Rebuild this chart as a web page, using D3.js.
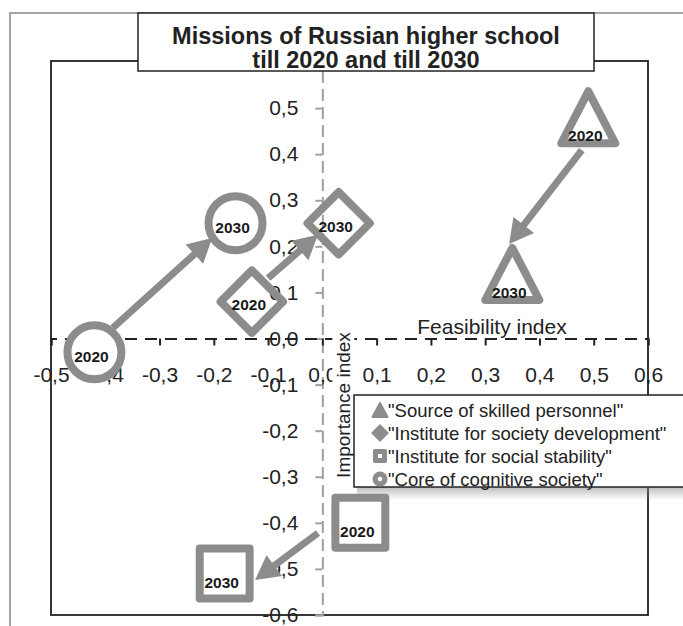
<!DOCTYPE html>
<html>
<head>
<meta charset="utf-8">
<script src="https://cdn.jsdelivr.net/npm/d3@7"></script>
<style>
  html, body { margin: 0; padding: 0; background: #fff; }
  svg { display: block; font-family: "Liberation Sans", Arial, sans-serif; }
</style>
</head>
<body>
<svg id="chart" width="683" height="626"></svg>
<script>
// Missions of Russian higher school: position in 2020 and 2030
const categories = [
  '"Source of skilled personnel"',
  '"Institute for society development"',
  '"Institute for social stability"',
  '"Core of cognitive society"'
];
const shapes = ["triangle", "diamond", "square", "circle"];
const legendOrder = [0, 1, 2, 3];

// feasibility (x) and importance (y) indexes
const feasibility2020 = [0.49, -0.13, 0.07, -0.42];
const importance2020  = [0.48, 0.08, -0.40, -0.03];
const feasibility2030 = [0.35, 0.03, -0.18, -0.16];
const importance2030  = [0.14, 0.25, -0.51, 0.25];

// arrows showing the shift from 2020 to 2030
const arrowFromX = [0.478, -0.100, -0.008, -0.386];
const arrowFromY = [0.409, 0.131, -0.422, 0.023];
const arrowToX   = [0.344, -0.008, -0.124, -0.203];
const arrowToY   = [0.205, 0.225, -0.524, 0.218];

const xTicks = [-0.5, -0.4, -0.3, -0.2, -0.1, 0, 0.1, 0.2, 0.3, 0.4, 0.5, 0.6];
const yTicks = [-0.6, -0.5, -0.4, -0.3, -0.2, -0.1, 0, 0.1, 0.2, 0.3, 0.4, 0.5];
const titleLines = ["Missions of Russian higher school", "till 2020 and till 2030"];
const xTitle = "Feasibility index";
const yTitle = "Importance index";

const fmt = v => (Math.abs(v) < 1e-9 ? 0 : v).toFixed(1).replace(".", ",");

const svg = d3.select("#chart");
const plot = { left: 51, top: 62, right: 648, bottom: 615 };
const x = d3.scaleLinear().domain([-0.5, 0.6]).range([plot.left, plot.right]);
const y = d3.scaleLinear().domain([-0.6, 0.6]).range([plot.bottom, plot.top]);
const x0 = x(0), y0 = y(0);

const markColor = "#8c8c8c";

// outer chart frame (runs past the window edges)
svg.append("rect").attr("x", 10).attr("y", 13).attr("width", 720).attr("height", 700)
  .attr("fill", "#fff").attr("stroke", "#a6a6a6").attr("stroke-width", 2);

// plot area border
svg.append("rect").attr("x", plot.left).attr("y", 61)
  .attr("width", plot.right - plot.left).attr("height", plot.bottom - 61)
  .attr("fill", "none").attr("stroke", "#222").attr("stroke-width", 1.8);

// vertical axis (importance) through x = 0
const yAxis = d3.axisLeft(y).tickValues(yTicks).tickFormat(fmt).tickSize(7).tickPadding(17);
const gy = svg.append("g").attr("transform", `translate(${x0},0)`).call(yAxis);
gy.select(".domain").attr("stroke", "#a0a0a0").attr("stroke-width", 2).attr("stroke-dasharray", "12,6");
gy.selectAll(".tick line").attr("stroke", "#a0a0a0").attr("stroke-width", 2);
gy.selectAll(".tick text").attr("font-size", 21).attr("fill", "#222")
  .attr("font-family", "Liberation Sans, Arial, sans-serif");

// horizontal axis (feasibility) through y = 0
const xAxis = d3.axisBottom(x).tickValues(xTicks).tickFormat(fmt).tickSize(7).tickPadding(22);
const gx = svg.append("g").attr("transform", `translate(0,${y0})`).call(xAxis);
gx.select(".domain").attr("stroke", "#222").attr("stroke-width", 2).attr("stroke-dasharray", "12,8");
gx.selectAll(".tick line").attr("stroke", "#222").attr("stroke-width", 2);
gx.selectAll(".tick text").attr("font-size", 21).attr("fill", "#222")
  .attr("font-family", "Liberation Sans, Arial, sans-serif");

// axis titles
svg.append("text").attr("x", 492).attr("y", y0 - 5).attr("text-anchor", "middle")
  .attr("font-size", 21).attr("fill", "#222").text(xTitle);
const yt = svg.append("g").attr("transform", `translate(${x0 + 21},405) rotate(-90)`);
yt.append("rect").attr("x", -74).attr("y", -11).attr("width", 148).attr("height", 22).attr("fill", "#fff");
yt.append("text").attr("text-anchor", "middle").attr("dy", "0.35em")
  .attr("font-size", 19).attr("fill", "#222").text(yTitle);

// arrows
const arrows = svg.append("g");
categories.forEach((c, i) => {
  const x1 = x(arrowFromX[i]), y1 = y(arrowFromY[i]);
  const x2 = x(arrowToX[i]), y2 = y(arrowToY[i]);
  const dx = x2 - x1, dy = y2 - y1, len = Math.hypot(dx, dy);
  const ux = dx / len, uy = dy / len;
  const headLen = 24, headW = 13;
  const bx = x2 - ux * headLen, by = y2 - uy * headLen;
  arrows.append("line").attr("x1", x1).attr("y1", y1).attr("x2", bx + ux * 2).attr("y2", by + uy * 2)
    .attr("stroke", markColor).attr("stroke-width", 7);
  arrows.append("path")
    .attr("d", `M${x2},${y2}L${bx - uy * headW},${by + ux * headW}L${bx + uy * headW},${by - ux * headW}Z`)
    .attr("fill", markColor);
});

// marker outlines
function markerPath(shape, s) {
  if (shape === "triangle") return `M0,${-0.5 * s}L${0.52 * s},${0.5 * s}L${-0.52 * s},${0.5 * s}Z`;
  if (shape === "diamond") return `M0,${-0.6 * s}L${0.6 * s},0L0,${0.6 * s}L${-0.6 * s},0Z`;
  if (shape === "square") return `M${-0.48 * s},${-0.48 * s}H${0.48 * s}V${0.48 * s}H${-0.48 * s}Z`;
  return null;
}
const labelShift = { triangle: 18, diamond: 3, square: 9, circle: 4 };
const fills = { triangle: "none", diamond: "none", square: "#fff", circle: "#fff" };

const points = [];
categories.forEach((c, i) => {
  points.push({ shape: shapes[i], fx: feasibility2020[i], iy: importance2020[i], year: "2020" });
  points.push({ shape: shapes[i], fx: feasibility2030[i], iy: importance2030[i], year: "2030" });
});

const marks = svg.append("g").selectAll("g").data(points).join("g")
  .attr("transform", d => `translate(${x(d.fx)},${y(d.iy)})`);
marks.each(function (d) {
  const g = d3.select(this);
  if (d.shape === "circle") {
    g.append("circle").attr("r", 27).attr("fill", fills.circle)
      .attr("stroke", markColor).attr("stroke-width", 8);
  } else {
    g.append("path").attr("d", markerPath(d.shape, 52)).attr("fill", fills[d.shape])
      .attr("stroke", markColor).attr("stroke-width", 8).attr("stroke-linejoin", "round");
  }
  g.append("text").attr("x", -3).attr("y", labelShift[d.shape]).attr("dy", "0.36em")
    .attr("text-anchor", "middle").attr("font-size", 15.5).attr("font-weight", "bold")
    .attr("fill", "#1a1a1a").text(d.year);
});

// legend
const defs = svg.append("defs");
const grad = defs.append("linearGradient").attr("id", "legendShadow").attr("x1", 0).attr("y1", 0).attr("x2", 0).attr("y2", 1);
grad.append("stop").attr("offset", 0).attr("stop-color", "#888").attr("stop-opacity", 0.55);
grad.append("stop").attr("offset", 1).attr("stop-color", "#888").attr("stop-opacity", 0);
const lg = svg.append("g").attr("transform", "translate(354,395)");
lg.append("rect").attr("x", 3).attr("y", 92).attr("width", 340).attr("height", 13).attr("fill", "url(#legendShadow)");
lg.append("rect").attr("width", 340).attr("height", 92).attr("fill", "#fff")
  .attr("stroke", "#222").attr("stroke-width", 1.5);
const rows = lg.selectAll("g.row").data(legendOrder).join("g").attr("class", "row")
  .attr("transform", (d, k) => `translate(0,${15 + k * 23})`);
rows.each(function (i) {
  const g = d3.select(this);
  const sh = shapes[i];
  const ic = g.append("g").attr("transform", "translate(26,0)");
  if (sh === "triangle") ic.append("path").attr("d", "M0,-7L7.5,7H-7.5Z").attr("fill", markColor)
    .attr("stroke", markColor).attr("stroke-width", 2).attr("stroke-linejoin", "round");
  if (sh === "diamond") ic.append("path").attr("d", "M0,-8L8,0L0,8L-8,0Z").attr("fill", markColor)
    .attr("stroke", markColor).attr("stroke-width", 1.5).attr("stroke-linejoin", "round");
  if (sh === "square") {
    ic.append("rect").attr("x", -7).attr("y", -7).attr("width", 14).attr("height", 14).attr("rx", 2).attr("fill", markColor);
    ic.append("rect").attr("x", -2).attr("y", -2).attr("width", 4).attr("height", 4).attr("fill", "#fff");
  }
  if (sh === "circle") {
    ic.append("circle").attr("r", 7.5).attr("fill", markColor);
    ic.append("circle").attr("r", 2.3).attr("fill", "#fff");
  }
  g.append("text").attr("x", 34).attr("dy", "0.36em").attr("font-size", 18.5).attr("fill", "#222")
    .text(categories[i]);
});

// title box
const tb = svg.append("g");
tb.append("rect").attr("x", 138).attr("y", 13).attr("width", 456).attr("height", 58)
  .attr("fill", "#fff").attr("stroke", "#222").attr("stroke-width", 1.5);
tb.selectAll("text").data(titleLines).join("text")
  .attr("x", 366).attr("y", (d, k) => 44 + k * 24).attr("text-anchor", "middle")
  .attr("font-size", 23.5).attr("font-weight", "bold").attr("fill", "#222").text(d => d);
</script>
</body>
</html>
